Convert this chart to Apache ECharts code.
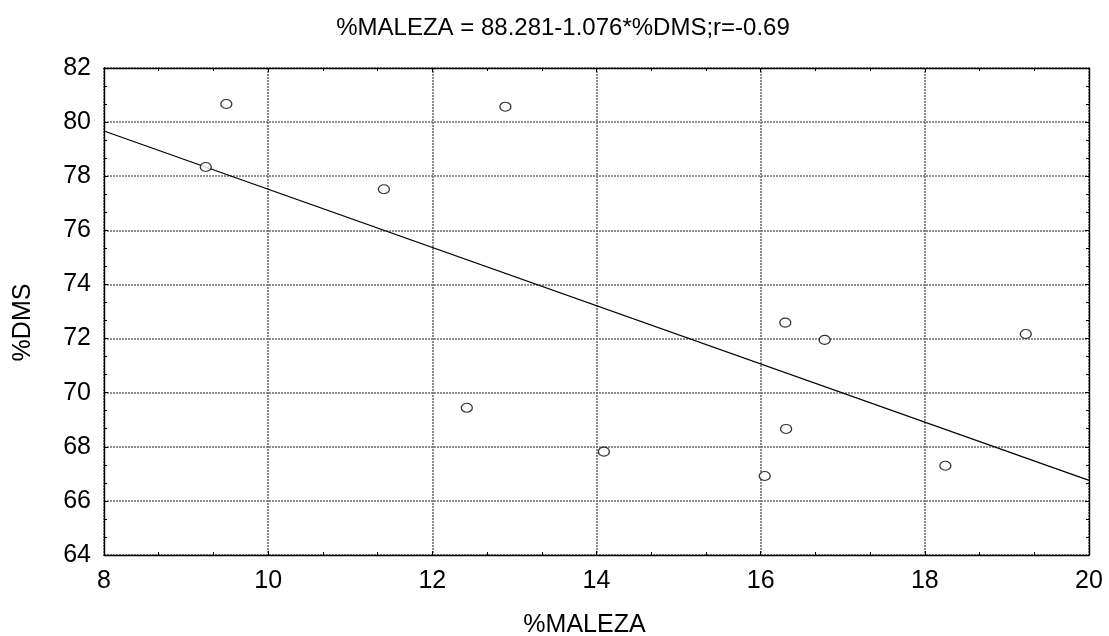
<!DOCTYPE html>
<html>
<head>
<meta charset="utf-8">
<script src="https://cdn.jsdelivr.net/npm/echarts@6/dist/echarts.min.js"></script>
<style>
  html, body { margin: 0; padding: 0; background: #fff; }
  #chart { width: 1109px; height: 636px; }
</style>
</head>
<body>
<div id="chart"></div>
<script>
  // puntos observados
  var malezaVals = [9.49, 9.24, 11.41, 12.89, 12.42, 14.09, 16.30, 16.78, 19.23, 16.31, 18.25, 16.05];
  var dmsVals = [80.67, 78.34, 77.52, 80.57, 69.44, 67.82, 72.59, 71.95, 72.17, 68.66, 67.30, 66.92];
  // recta de regresion (extremos del eje)
  var lineX = [8, 20];
  var lineY = [79.67, 66.76];
  var xTicks = [8, 10, 12, 14, 16, 18, 20];
  var yTicks = [64, 66, 68, 70, 72, 74, 76, 78, 80, 82];

  var FONT = '"Liberation Sans", Arial, sans-serif';

  var chart = echarts.init(document.getElementById('chart'));

  var points = malezaVals.map(function (v, i) { return [v, dmsVals[i]]; });
  var linePts = lineX.map(function (v, i) { return [v, lineY[i]]; });

  var gridLine = { show: true, lineStyle: { color: '#6e6e6e', width: 1.6, type: [2, 1] } };

  function axisBase(extra) {
    var base = {
      type: 'value',
      axisLine: { show: true, lineStyle: { color: '#000', width: 1.4 } },
      axisTick: { show: true, inside: true, length: 4, lineStyle: { color: '#000' } },
      minorTick: { show: true, splitNumber: 3, length: 3, lineStyle: { color: '#000' } },
      splitLine: { show: false }
    };
    return Object.assign(base, extra);
  }

  chart.setOption({
    animation: false,
    backgroundColor: '#fff',
    title: {
      text: '%MALEZA = 88.281-1.076*%DMS;r=-0.69',
      left: 558,
      textAlign: 'center',
      top: 11,
      textStyle: { fontFamily: FONT, fontSize: 24, fontWeight: 'normal', color: '#000' }
    },
    grid: { left: 104, top: 68, right: 20, bottom: 81, outerBoundsMode: 'none', containLabel: false },
    xAxis: [
      axisBase({
        position: 'bottom',
        min: xTicks[0], max: xTicks[xTicks.length - 1], interval: 2,
        name: '%MALEZA', nameLocation: 'middle', nameGap: 58,
        nameTextStyle: { fontFamily: FONT, fontSize: 25, color: '#000', padding: [0, 24, 0, 0] },
        axisLabel: { fontFamily: FONT, fontSize: 25, color: '#000', margin: 14 },
        splitLine: gridLine
      }),
      axisBase({
        position: 'top',
        min: xTicks[0], max: xTicks[xTicks.length - 1], interval: 2,
        axisLabel: { show: false }
      })
    ],
    yAxis: [
      axisBase({
        position: 'left',
        min: yTicks[0], max: yTicks[yTicks.length - 1], interval: 2,
        name: '%DMS', nameLocation: 'middle', nameGap: 68, nameRotate: 90,
        nameTextStyle: { fontFamily: FONT, fontSize: 25, color: '#000', padding: [0, 22, 0, 0] },
        axisLabel: { fontFamily: FONT, fontSize: 25, color: '#000', margin: 13 },
        splitLine: gridLine
      }),
      axisBase({
        position: 'right',
        min: yTicks[0], max: yTicks[yTicks.length - 1], interval: 2,
        axisLabel: { show: false }
      })
    ],
    series: [
      {
        type: 'line',
        data: linePts,
        symbol: 'none',
        lineStyle: { color: '#000', width: 1.2 },
        silent: true,
        z: 3
      },
      {
        type: 'scatter',
        data: points,
        symbol: 'circle',
        symbolSize: [11, 9],
        itemStyle: { color: '#fff', borderColor: '#000', borderWidth: 1.2 },
        z: 4
      }
    ]
  });
</script>
</body>
</html>
